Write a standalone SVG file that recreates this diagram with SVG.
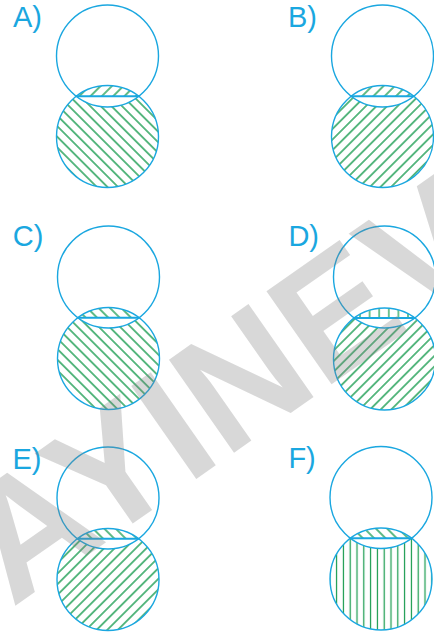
<svg xmlns="http://www.w3.org/2000/svg" width="434" height="635" viewBox="0 0 434 635">
<defs>
<style>
.lbl{font-family:"Liberation Sans",Arial,sans-serif;font-size:29px;fill:#1aa7e0}
.c{fill:none;stroke:#1aa7e0;stroke-width:1.4}
.ch{stroke:#1aa7e0;stroke-width:2.2}
.wm{font-family:"Liberation Sans",Arial,sans-serif;font-weight:bold;font-size:165px;fill:#7f7f7f;fill-opacity:0.3}
</style>
<pattern id="fs" patternUnits="userSpaceOnUse" width="7.5" height="7.5" patternTransform="rotate(45)"><line x1="3.75" y1="-1" x2="3.75" y2="8.5" stroke="#12994a" stroke-width="1.35"/></pattern>
<pattern id="bs" patternUnits="userSpaceOnUse" width="7.5" height="7.5" patternTransform="rotate(-45)"><line x1="3.75" y1="-1" x2="3.75" y2="8.5" stroke="#12994a" stroke-width="1.35"/></pattern>
<pattern id="fsc" patternUnits="userSpaceOnUse" width="8" height="8" patternTransform="rotate(45)"><line x1="4" y1="-1" x2="4" y2="9" stroke="#12994a" stroke-width="1.35"/></pattern>
<pattern id="bsc" patternUnits="userSpaceOnUse" width="8" height="8" patternTransform="rotate(-45)"><line x1="4" y1="-1" x2="4" y2="9" stroke="#12994a" stroke-width="1.35"/></pattern>
<pattern id="v" patternUnits="userSpaceOnUse" width="6.8" height="6.8"><line x1="3.4" y1="-1" x2="3.4" y2="8" stroke="#12994a" stroke-width="1.2"/></pattern>
<pattern id="vc" patternUnits="userSpaceOnUse" width="9.6" height="9.6"><line x1="4.8" y1="-1" x2="4.8" y2="11" stroke="#12994a" stroke-width="1.2"/></pattern>
</defs>
<rect width="434" height="635" fill="#fff"/>

<g id="panel-A">
<path d="M76.2,96.25 A51 51 0 1 0 138.8,96.25 A51 51 0 0 1 76.2,96.25 Z" fill="url(#bs)"/>
<path d="M76.2,96.25 A51 51 0 0 1 138.8,96.25 Z" fill="url(#fsc)"/>
<circle class="c" cx="107.5" cy="56" r="51"/>
<circle class="c" cx="107.5" cy="136.5" r="51"/>
<line class="ch" x1="76.2" y1="96.25" x2="138.8" y2="96.25"/>
<text class="lbl" x="13" y="27">A)</text>
</g>

<g id="panel-B">
<path d="M351.2,96.25 A51 51 0 1 0 413.8,96.25 A51 51 0 0 1 351.2,96.25 Z" fill="url(#fs)"/>
<path d="M351.2,96.25 A51 51 0 0 1 413.8,96.25 Z" fill="url(#fsc)"/>
<circle class="c" cx="382.5" cy="56" r="51"/>
<circle class="c" cx="382.5" cy="136.5" r="51"/>
<line class="ch" x1="351.2" y1="96.25" x2="413.8" y2="96.25"/>
<text class="lbl" x="288" y="27">B)</text>
</g>

<g id="panel-C">
<path d="M77.8,317.75 A51 51 0 1 0 139.2,317.75 A51 51 0 0 1 77.8,317.75 Z" fill="url(#bs)"/>
<path d="M77.8,317.75 A51 51 0 0 1 139.2,317.75 Z" fill="url(#bsc)"/>
<circle class="c" cx="108.5" cy="277" r="51"/>
<circle class="c" cx="108.5" cy="358.5" r="51"/>
<line class="ch" x1="77.8" y1="317.75" x2="139.2" y2="317.75"/>
<text class="lbl" x="12.8" y="246">C)</text>
</g>

<g id="panel-D">
<path d="M354.2,318 A51 51 0 1 0 414.8,318 A51 51 0 0 1 354.2,318 Z" fill="url(#fs)"/>
<path d="M354.2,318 A51 51 0 0 1 414.8,318 Z" fill="url(#vc)"/>
<circle class="c" cx="384.5" cy="277" r="51"/>
<circle class="c" cx="384.5" cy="359" r="51"/>
<line class="ch" x1="354.2" y1="318" x2="414.8" y2="318"/>
<text class="lbl" x="288.4" y="246">D)</text>
</g>

<g id="panel-E">
<path d="M77.3,538.75 A51 51 0 1 0 138.7,538.75 A51 51 0 0 1 77.3,538.75 Z" fill="url(#fs)"/>
<path d="M77.3,538.75 A51 51 0 0 1 138.7,538.75 Z" fill="url(#bsc)"/>
<circle class="c" cx="108" cy="498" r="51"/>
<circle class="c" cx="108" cy="579.5" r="51"/>
<line class="ch" x1="77.3" y1="538.75" x2="138.7" y2="538.75"/>
<text class="lbl" x="12.5" y="469">E)</text>
</g>

<g id="panel-F">
<path d="M350.3,538.25 A51 51 0 1 0 411.7,538.25 A51 51 0 0 1 350.3,538.25 Z" fill="url(#v)"/>
<path d="M350.3,538.25 A51 51 0 0 1 411.7,538.25 Z" fill="url(#bsc)"/>
<circle class="c" cx="381" cy="497.5" r="51"/>
<circle class="c" cx="381" cy="579" r="51"/>
<line class="ch" x1="350.3" y1="538.25" x2="411.7" y2="538.25"/>
<text class="lbl" x="288.4" y="468">F)</text>
</g>

<g id="connectors"/>

<text class="wm" transform="translate(12,608) rotate(-35)">AYINEV</text>
</svg>
